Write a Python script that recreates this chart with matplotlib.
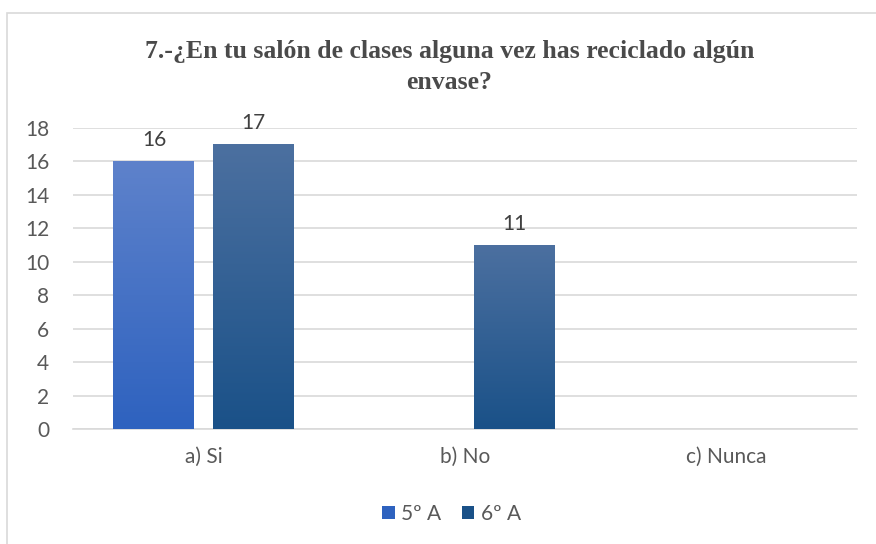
import numpy as np
import matplotlib
matplotlib.use("Agg")
import matplotlib.pyplot as plt
from matplotlib.colors import LinearSegmentedColormap
from matplotlib.patches import Rectangle

# Chart data
categories = ["a) Si", "b) No", "c) Nunca"]
series_names = ["5º A", "6º A"]
values_5a = [16, 0, 0]
values_6a = [17, 11, 0]
yticks = [0, 2, 4, 6, 8, 10, 12, 14, 16, 18]
title = "7.-¿En tu salón de clases alguna vez has reciclado algún\nenvase?"

# gradient colours (top, bottom)
grad_5a = ("#5E82CB", "#2E62BF")
grad_6a = ("#4C70A0", "#1A5188")

plt.rcParams["font.family"] = ["Lato", "DejaVu Sans"]

fig = plt.figure(figsize=(8.76, 5.44), dpi=100)
ax = fig.add_axes([0.0833, 0.2114, 0.8947, 0.5542])

# outer frame of the chart
fig.patches.append(Rectangle((0.008, -0.01), 1.0, 0.987, transform=fig.transFigure,
                             fill=False, edgecolor="#D9D9D9", lw=1.2))

x = np.arange(len(categories))
width = 0.31
offset = 0.19


def gradient_bars(xs, vals, colors, label):
    bars = ax.bar(xs, vals, width, color=colors[1], label=label, zorder=3)
    cmap = LinearSegmentedColormap.from_list("g", [colors[1], colors[0]])
    grad = np.linspace(0, 1, 256).reshape(-1, 1)
    for b in bars:
        h = b.get_height()
        if h <= 0:
            continue
        im = ax.imshow(grad, cmap=cmap, origin="lower", aspect="auto",
                       extent=[b.get_x(), b.get_x() + b.get_width(), 0, h],
                       zorder=3.5)
        im.set_clip_path(b)
    return bars


b5 = gradient_bars(x - offset, values_5a, grad_5a, series_names[0])
b6 = gradient_bars(x + offset, values_6a, grad_6a, series_names[1])

for bars, vals in ((b5, values_5a), (b6, values_6a)):
    for b, v in zip(bars, vals):
        if v > 0:
            ax.annotate(str(v), (b.get_x() + b.get_width() / 2, v),
                        xytext=(0, 8), textcoords="offset points",
                        ha="center", va="bottom", fontsize=15, color="#404040")

ax.set_xlim(-0.5, 2.5)
ax.set_ylim(0, 18)
ax.set_yticks(yticks)
ax.set_xticks(x)
ax.set_xticklabels(categories)
ax.tick_params(axis="y", length=0, pad=17, labelsize=15, labelcolor="#595959")
ax.tick_params(axis="x", length=0, pad=13, labelsize=15, labelcolor="#595959")
ax.grid(axis="y", color="#D9D9D9", lw=1.2, zorder=0)
for side in ["top", "right", "left"]:
    ax.spines[side].set_visible(False)
ax.spines["bottom"].set_color("#D9D9D9")
ax.spines["bottom"].set_linewidth(1.2)

fig.text(0.513, 0.877, title, ha="center", va="center", fontsize=18.5,
         fontweight="bold", family=["Liberation Serif", "DejaVu Serif"],
         color="#4A4A4A", linespacing=1.4)

ax.legend(loc="center", bbox_to_anchor=(0.483, -0.282), ncol=2, frameon=False,
          fontsize=15, labelcolor="#595959", handlelength=0.6, handleheight=0.6,
          handletextpad=0.3, columnspacing=1.0)

fig.savefig("out.png", dpi=100, facecolor="white")
